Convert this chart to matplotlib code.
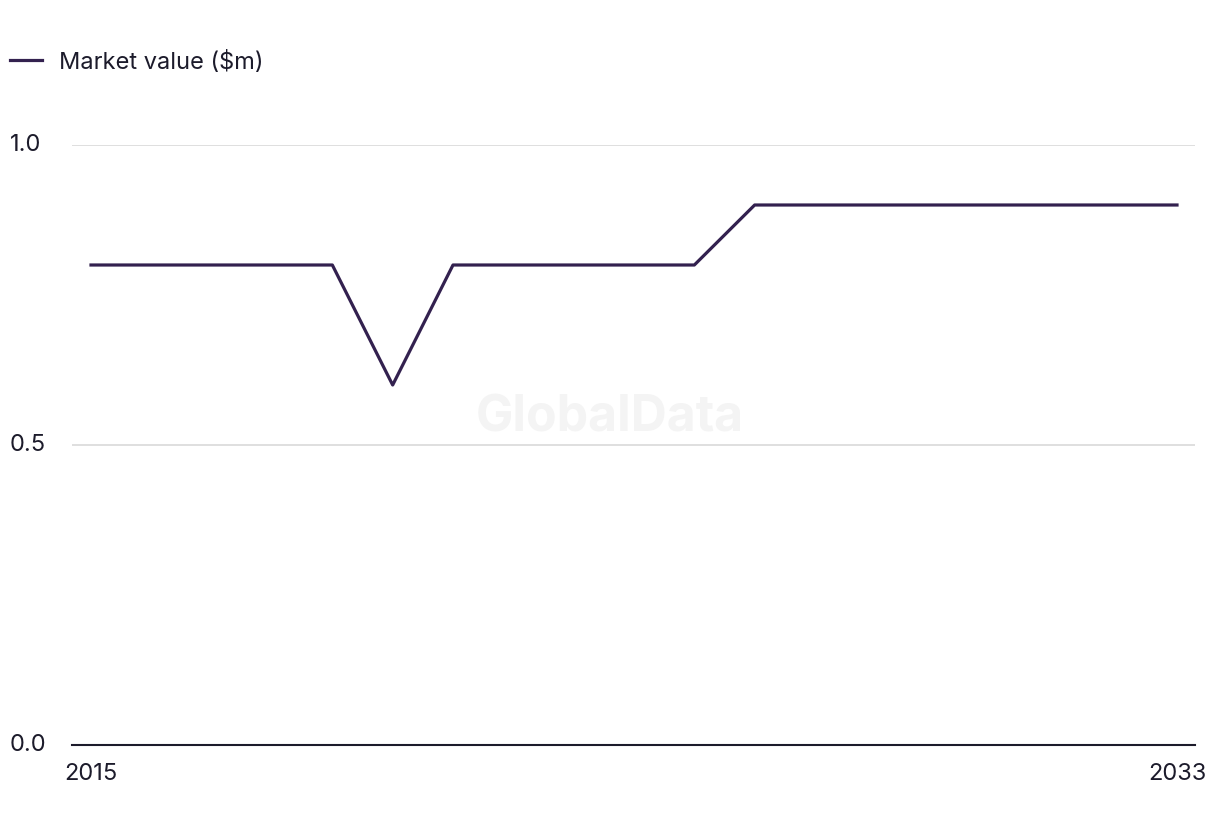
import matplotlib.pyplot as plt

# Data
years = list(range(2015, 2034))
market_value = [0.8, 0.8, 0.8, 0.8, 0.8, 0.6, 0.8, 0.8, 0.8, 0.8, 0.8,
                0.9, 0.9, 0.9, 0.9, 0.9, 0.9, 0.9, 0.9]
y_ticks = [0.0, 0.5, 1.0]
x_ticks = [2015, 2033]

line_color = "#33214f"
text_color = "#1c1b2b"

plt.rcParams['font.family'] = ['Inter', 'DejaVu Sans']

fig = plt.figure(figsize=(12.2, 8.36), dpi=100)
ax = fig.add_axes([72 / 1220, 1 - 745 / 836, (1195 - 72) / 1220, (745 - 145) / 836])

line, = ax.plot(years, market_value, color=line_color, linewidth=2.3)

ax.set_xlim(2015 - 19 / 60.33, 2033 + 18 / 60.33)
ax.set_ylim(0, 1.0)
ax.set_yticks(y_ticks)
ax.set_yticklabels([f"{v:.1f}" for v in y_ticks])
ax.set_xticks(x_ticks)
ax.set_xticklabels([str(x) for x in x_ticks])

# grid and spines
ax.grid(axis='y', color='#d9d9d9', linewidth=1.2)
ax.set_axisbelow(True)
for side in ['top', 'right', 'left']:
    ax.spines[side].set_visible(False)
ax.spines['bottom'].set_color(text_color)
ax.spines['bottom'].set_linewidth(1.5)

ax.tick_params(axis='y', length=0, pad=45, labelsize=17, labelcolor=text_color)
for lbl in ax.get_yticklabels():
    lbl.set_horizontalalignment('left')
    lbl.set_verticalalignment('center')
ax.tick_params(axis='x', length=0, pad=13, labelsize=17, labelcolor=text_color)

# Watermark
fig.text(0.5, 1 - 418 / 836, "GlobalData", ha='center', va='center',
         fontsize=36, fontweight='bold', color='#f4f4f4', zorder=0)

# Legend
fig.legend([line], ["Market value ($m)"], loc='center left',
           bbox_to_anchor=(10 / 1220, 1 - 62 / 836),
           frameon=False, fontsize=17, handlelength=1.35, handletextpad=0.72,
           labelcolor=text_color, borderaxespad=0.0, borderpad=0.0)

fig.savefig("out.png", dpi=100)
